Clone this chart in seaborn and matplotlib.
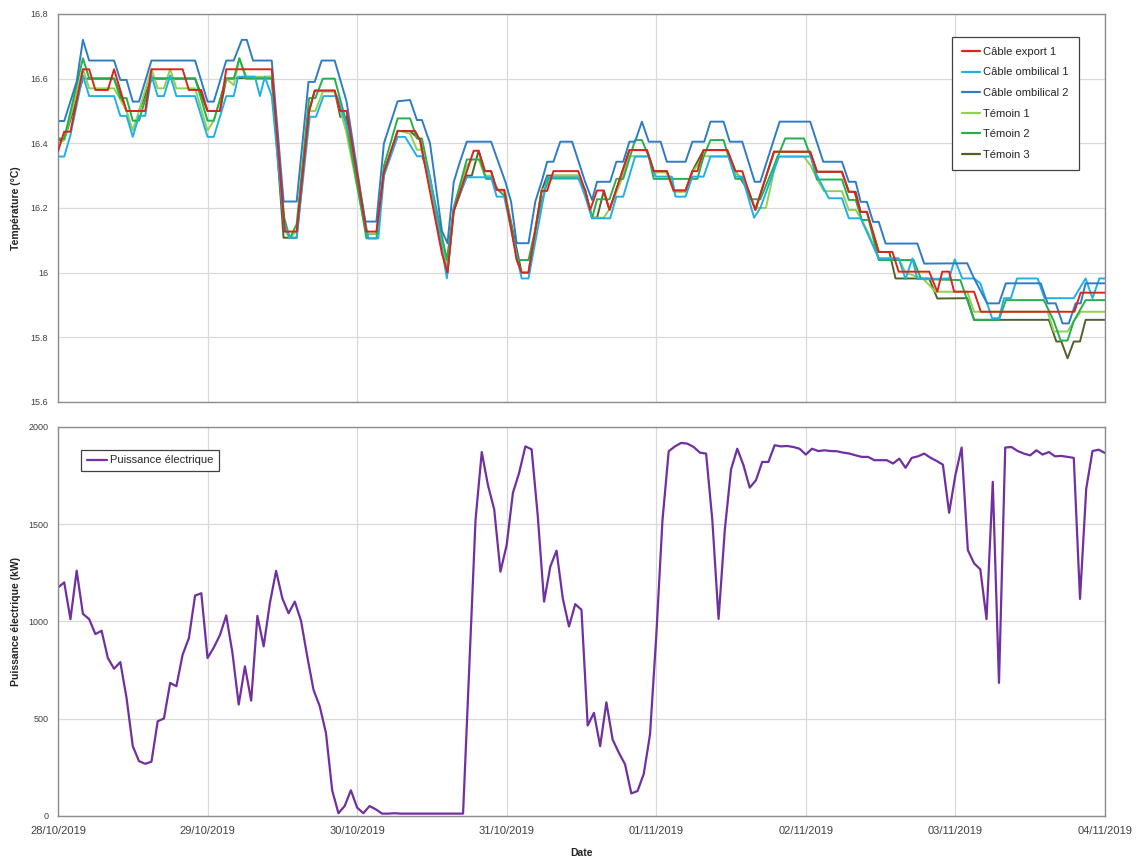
import numpy as np
import pandas as pd
import matplotlib
matplotlib.use("Agg")
import matplotlib.pyplot as plt
import matplotlib.dates as mdates
from matplotlib.ticker import FuncFormatter, MultipleLocator
import seaborn as sns

# --- Data (hours after 28/10/2019 00:00) ---
START = pd.Timestamp("2019-10-28")

export1_h = [0, 1, 2, 4, 5, 6, 8, 9, 11, 14, 15, 20, 21, 23, 24, 26, 27, 34.3, 36.4, 38.3,
             40.3, 41.2, 44.4, 45.3, 46.3, 49.5, 51.1, 52.3, 54.5, 57.3, 58.1, 61.6, 62.5, 63.5,
             66.7, 67.5, 68.5, 69.5, 70.4, 71.6, 73.6, 74.4, 75.5, 77.6, 78.5, 79.5, 83.5, 84.6,
             85.4, 86.5, 87.5, 88.5, 91.7, 94.5, 95.6, 97.7, 98.8, 100.7, 101.8, 102.6, 103.6,
             107.4, 108.7, 109.8, 110.8, 111.9, 114.9, 120.7, 121.8, 125.8, 126.9, 127.8, 128.8,
             129.8, 131.7, 133.9, 134.9, 139.8, 141.1, 141.9, 143, 143.8, 147, 148.1, 163.1, 164.1, 168]
export1_t = [16.376, 16.436, 16.436, 16.629, 16.629, 16.565, 16.565, 16.629, 16.5, 16.5,
             16.629, 16.629, 16.565, 16.565, 16.5, 16.5, 16.629, 16.629, 16.127, 16.127,
             16.5, 16.563, 16.563, 16.5, 16.5, 16.127, 16.127, 16.31, 16.438, 16.438,
             16.41, 16.06, 16.0, 16.19, 16.377, 16.377, 16.314, 16.314, 16.256, 16.256,
             16.04, 16.0, 16.0, 16.253, 16.253, 16.314, 16.314, 16.253, 16.194, 16.254,
             16.254, 16.194, 16.379, 16.379, 16.314, 16.314, 16.254, 16.254, 16.314, 16.314,
             16.379, 16.379, 16.314, 16.314, 16.254, 16.194, 16.374, 16.374, 16.312, 16.312,
             16.25, 16.25, 16.188, 16.188, 16.064, 16.064, 16.003, 16.003, 15.941, 16.003,
             16.003, 15.941, 15.941, 15.879, 15.879, 15.938, 15.938]

ombil1_h = [0, 1, 2, 4, 5, 9, 10, 11, 12, 13, 14, 15, 16, 17, 18, 19, 22, 24, 25, 27,
            28.2, 28.9, 31.6, 32.4, 33.2, 34.3, 36.2, 37.2, 38.3, 40.4, 41.4, 42.6, 44.8, 46.9,
            49.8, 51.4, 52.3, 54.5, 55.7, 57.6, 58.4, 59.7, 62.4, 63.5, 65.6, 69.5, 70.4, 71.6,
            74.4, 75.5, 77.6, 78.5, 83.5, 84.6, 85.7, 88.6, 89.6, 90.7, 92.6, 94.8, 95.9, 98.5,
            99.1, 100.7, 101.8, 103.6, 104.7, 107.6, 108.7, 109.8, 111.7, 112.7, 115.7, 120.8,
            121.8, 123.7, 125.8, 126.9, 128.8, 131.7, 134.9, 136, 137.1, 137.9, 143, 143.9, 145.1,
            147, 148, 149.9, 151, 151.8, 152.9, 153.9, 157.2, 158.3, 163, 164.9, 166, 167.1, 168]
ombil1_t = [16.359, 16.359, 16.426, 16.61, 16.546, 16.546, 16.485, 16.485, 16.42, 16.485,
            16.485, 16.61, 16.546, 16.546, 16.61, 16.546, 16.546, 16.42, 16.42, 16.546,
            16.546, 16.606, 16.606, 16.546, 16.606, 16.546, 16.16, 16.108, 16.108, 16.482,
            16.482, 16.546, 16.546, 16.42, 16.106, 16.106, 16.3, 16.42, 16.42, 16.36,
            16.36, 16.297, 15.982, 16.2, 16.295, 16.295, 16.235, 16.235, 15.982, 15.982,
            16.2, 16.294, 16.294, 16.235, 16.168, 16.168, 16.235, 16.235, 16.359, 16.359,
            16.297, 16.297, 16.235, 16.235, 16.297, 16.297, 16.359, 16.359, 16.297, 16.297,
            16.17, 16.2, 16.359, 16.359, 16.3, 16.23, 16.23, 16.168, 16.168, 16.044,
            16.044, 15.98, 16.044, 15.98, 15.982, 16.041, 15.982, 15.982, 15.967, 15.859,
            15.859, 15.921, 15.921, 15.982, 15.982, 15.921, 15.921, 15.982, 15.921, 15.982, 15.982]

ombil2_h = [0, 1, 3, 4, 5, 9, 10, 11, 12, 13, 15, 22, 24, 25, 27, 28.2, 29.5, 30.3, 31.3, 34.3,
            36.2, 38.3, 40.2, 41.2, 42.3, 44.4, 46.3, 49.3, 51.1, 52.3, 54.5, 56.5, 57.6, 58.4,
            59.7, 61.6, 62.5, 63.5, 64.5, 65.6, 69.5, 71.8, 72.7, 73.6, 75.5, 76.6, 77.6, 78.5,
            79.5, 80.6, 82.5, 84.6, 85.7, 86.5, 88.6, 89.6, 90.7, 91.7, 92.6, 93.7, 94.8, 96.7,
            97.7, 100.7, 101.8, 103.7, 104.7, 106.8, 107.8, 109.8, 111.8, 112.7, 115.8, 120.7,
            122.8, 125.8, 126.9, 128, 128.8, 129.8, 130.8, 131.7, 132.8, 137.9, 139, 145.9, 147,
            149.1, 151, 152.1, 157.7, 158.8, 160.1, 161.2, 162.2, 163.3, 164.1, 164.9, 168]
ombil2_t = [16.469, 16.469, 16.591, 16.72, 16.656, 16.656, 16.596, 16.596, 16.529, 16.529,
            16.656, 16.656, 16.529, 16.529, 16.656, 16.656, 16.72, 16.72, 16.656, 16.656,
            16.22, 16.22, 16.59, 16.59, 16.656, 16.656, 16.53, 16.158, 16.158, 16.40,
            16.53, 16.534, 16.472, 16.472, 16.40, 16.13, 16.091, 16.28, 16.343, 16.405,
            16.405, 16.28, 16.22, 16.091, 16.091, 16.22, 16.281, 16.343, 16.343, 16.405,
            16.405, 16.28, 16.225, 16.281, 16.281, 16.343, 16.343, 16.405, 16.405, 16.467,
            16.405, 16.405, 16.343, 16.343, 16.405, 16.405, 16.467, 16.467, 16.405, 16.405,
            16.281, 16.281, 16.467, 16.467, 16.343, 16.343, 16.281, 16.281, 16.219, 16.219,
            16.157, 16.157, 16.09, 16.09, 16.028, 16.029, 15.982, 15.905, 15.905, 15.967,
            15.967, 15.905, 15.905, 15.843, 15.843, 15.905, 15.905, 15.967, 15.967]

temoin1_h = [0, 1, 4, 5, 9, 11, 12, 13, 15, 16, 17, 18, 19, 22, 24, 25, 27, 28.2, 29.1, 30.2,
             34.3, 36.4, 37.2, 38.3, 40.3, 41.3, 42.5, 44.4, 46.2, 49.5, 51.1, 52.3, 54.5, 56.5,
             57.6, 58.4, 62.5, 63.5, 65.6, 66.4, 67.5, 68.5, 69.5, 70.6, 71.8, 73.6, 74.4, 75.5,
             77.6, 78.5, 79.5, 83.5, 84.6, 85.7, 87.6, 88.6, 90.7, 91.7, 94.8, 95.6, 97.7, 98.8,
             100.7, 101.8, 103.6, 107.6, 108.7, 109.8, 111.8, 113.6, 115.4, 119.7, 120.8, 121.8,
             122.9, 125.8, 126.9, 128, 129, 130.1, 131.7, 134.9, 136, 138.9, 140.8, 145.9, 147,
             158.8, 159.8, 162, 163, 164.1, 168]
temoin1_t = [16.4, 16.41, 16.63, 16.57, 16.57, 16.5, 16.44, 16.5, 16.63, 16.57,
             16.57, 16.63, 16.57, 16.57, 16.44, 16.47, 16.6, 16.58, 16.663, 16.606,
             16.606, 16.13, 16.106, 16.13, 16.5, 16.5, 16.56, 16.56, 16.44, 16.12,
             16.12, 16.3, 16.44, 16.43, 16.38, 16.38, 16.01, 16.2, 16.33, 16.35,
             16.35, 16.3, 16.3, 16.256, 16.25, 16.04, 16.0, 16.0, 16.253, 16.27,
             16.3, 16.3, 16.25, 16.17, 16.17, 16.2, 16.3, 16.36, 16.36, 16.31,
             16.31, 16.25, 16.25, 16.31, 16.36, 16.36, 16.31, 16.29, 16.2, 16.2,
             16.359, 16.359, 16.33, 16.29, 16.252, 16.252, 16.194, 16.194, 16.163, 16.12,
             16.044, 16.044, 16.0, 15.98, 15.941, 15.941, 15.879, 15.879, 15.818, 15.818,
             15.85, 15.879, 15.879]

temoin2_h = [0, 1, 4, 5, 9, 10, 11, 12, 13, 15, 22, 24, 25, 27, 28.2, 29.1, 30.2, 34.3, 36.3,
             37.2, 38.3, 40.3, 41.3, 42.5, 44.4, 46.2, 49.5, 51.1, 52.3, 54.5, 56.5, 57.6, 58.4,
             62.4, 63.5, 65.6, 67.7, 68.7, 69.5, 70.6, 71.8, 73.8, 75.5, 77.6, 78.7, 83.5, 84.6,
             85.7, 86.5, 88.5, 89.6, 90.7, 92.6, 93.7, 94.8, 95.6, 102.6, 103.6, 104.7, 106.8,
             107.6, 108.7, 109.8, 111.1, 112.7, 116.7, 119.7, 120.8, 121.8, 125.8, 126.9, 128,
             129, 130.1, 131.7, 137.3, 138.5, 144.8, 147, 151, 152.1, 158.2, 159.8, 160.9, 162,
             163, 164.9, 168]
temoin2_t = [16.415, 16.415, 16.663, 16.601, 16.601, 16.54, 16.54, 16.47, 16.47, 16.601,
             16.601, 16.47, 16.47, 16.601, 16.6, 16.663, 16.6, 16.6, 16.17, 16.106,
             16.15, 16.54, 16.54, 16.6, 16.6, 16.47, 16.106, 16.106, 16.33, 16.477,
             16.477, 16.415, 16.415, 16.039, 16.2, 16.35, 16.35, 16.29, 16.29, 16.256,
             16.235, 16.039, 16.039, 16.22, 16.291, 16.291, 16.256, 16.168, 16.227, 16.227,
             16.29, 16.29, 16.41, 16.41, 16.359, 16.29, 16.29, 16.359, 16.41, 16.41,
             16.359, 16.29, 16.29, 16.227, 16.227, 16.415, 16.415, 16.359, 16.288, 16.288,
             16.225, 16.225, 16.163, 16.163, 16.039, 16.039, 15.98, 15.977, 15.854, 15.854,
             15.915, 15.915, 15.85, 15.79, 15.79, 15.85, 15.915, 15.915]

temoin3_h = [0, 1, 4, 9, 11, 13, 15, 22, 24, 26, 27, 34.3, 36.2, 38.3, 40.3, 41.2, 44.4, 45.3,
             46.3, 49.5, 51.1, 52.3, 54.5, 56.5, 58.1, 62.5, 63.5, 65.6, 66.4, 67.5, 68.5, 69.5,
             70.4, 71.6, 74.4, 75.5, 77.6, 78.5, 83.5, 84.6, 85.7, 86.5, 87.6, 88.5, 91.7, 94.5,
             95.6, 97.7, 98.8, 100.7, 101.8, 103.6, 107.4, 108.7, 110.8, 111.9, 114.9, 120.7,
             121.8, 125.8, 126.9, 128, 128.8, 129.8, 131.7, 133.4, 134.4, 139.8, 141.1, 145.9,
             147, 159, 160.2, 161, 162, 163, 164, 164.9, 168]
temoin3_t = [16.41, 16.41, 16.6, 16.6, 16.5, 16.5, 16.6, 16.6, 16.5, 16.5,
             16.6, 16.606, 16.108, 16.108, 16.5, 16.563, 16.563, 16.482, 16.482, 16.12,
             16.12, 16.31, 16.438, 16.438, 16.41, 16.0, 16.19, 16.3, 16.3, 16.377,
             16.314, 16.314, 16.256, 16.256, 16.0, 16.0, 16.253, 16.3, 16.3, 16.253,
             16.17, 16.17, 16.254, 16.194, 16.379, 16.379, 16.314, 16.314, 16.254, 16.254,
             16.314, 16.379, 16.379, 16.314, 16.254, 16.194, 16.374, 16.374, 16.312, 16.312,
             16.25, 16.25, 16.188, 16.188, 16.064, 16.064, 15.982, 15.982, 15.92, 15.921,
             15.854, 15.854, 15.787, 15.787, 15.735, 15.787, 15.787, 15.854, 15.854]

# hourly electrical power (kW), 28/10 00:00 -> 04/11 00:00
power_kw = [1174, 1201, 1012, 1261, 1039, 1012, 935, 952, 812, 757, 791, 607, 359, 282, 268,
            279, 487, 501, 684, 667, 829, 914, 1133, 1145,
            812, 866, 931, 1031, 837, 573, 769, 593, 1029, 872, 1094, 1260, 1119, 1042, 1102,
            1003, 820, 649, 564, 427, 132, 14, 51, 132, 43, 14, 51, 34, 12, 12, 14,
            12, 12, 12, 12, 12, 12, 12, 12, 12, 12, 12, 760,
            1521, 1871, 1700, 1576, 1256, 1393, 1661, 1764, 1900, 1885, 1538, 1102, 1282, 1364,
            1119, 974, 1089, 1060, 465, 530, 359, 584, 393, 325, 265, 116, 128, 217, 419, 923,
            1521, 1875, 1900, 1918, 1914, 1897, 1868, 1863, 1521, 1013, 1470, 1781, 1888, 1803,
            1688, 1726, 1820, 1820, 1906, 1900,
            1902, 1897, 1888, 1858, 1888, 1876, 1880, 1876, 1875, 1868, 1863, 1854, 1846, 1846,
            1829, 1829, 1829, 1812, 1837, 1790, 1841, 1849, 1863, 1842, 1825, 1806, 1559, 1752,
            1894, 1367, 1299, 1268, 1012, 1718, 684, 1894, 1897, 1876, 1863, 1854, 1880, 1858,
            1871, 1849, 1851, 1846, 1841, 1116, 1683, 1876, 1883, 1866]

series = [
    ("Câble export 1", export1_h, export1_t, "#d9261c", 2.6),
    ("Câble ombilical 1", ombil1_h, ombil1_t, "#1fb0ea", 2.3),
    ("Câble ombilical 2", ombil2_h, ombil2_t, "#2f7cc4", 2.4),
    ("Témoin 1", temoin1_h, temoin1_t, "#92d050", 2.1),
    ("Témoin 2", temoin2_h, temoin2_t, "#22b14c", 2.2),
    ("Témoin 3", temoin3_h, temoin3_t, "#4f6228", 2.0),
]

sns.set_style("white")
plt.rcParams["font.family"] = ["Liberation Sans", "DejaVu Sans"]

fig = plt.figure(figsize=(11.37, 8.58), dpi=100)
ax1 = fig.add_axes([0.0510, 0.5315, 0.9208, 0.4522])
ax2 = fig.add_axes([0.0510, 0.0490, 0.9208, 0.4534], sharex=ax1)

for name, hrs, temps, col, z in series:
    t = START + pd.to_timedelta(hrs, unit="h")
    sns.lineplot(x=t, y=temps, ax=ax1, color=col, lw=1.4, label=name,
                 estimator=None, sort=False, zorder=z)

p_time = pd.date_range(START, periods=len(power_kw), freq="h")
sns.lineplot(x=p_time, y=power_kw, ax=ax2, color="#7030a0", lw=1.6,
             label="Puissance électrique", estimator=None, sort=False)

x0 = START
x1 = START + pd.Timedelta(days=7)
for ax in (ax1, ax2):
    ax.set_xlim(x0, x1)
    ax.grid(True, color="#d9d9d9", lw=0.9)
    ax.set_axisbelow(True)
    for sp in ax.spines.values():
        sp.set_color("#8c8c8c")
        sp.set_linewidth(1.0)
    ax.tick_params(axis="both", direction="out", length=3, width=0.8, color="#8c8c8c",
                   labelcolor="#404040")
    ax.xaxis.set_major_locator(mdates.DayLocator())
    ax.xaxis.set_major_formatter(mdates.DateFormatter("%d/%m/%Y"))

ax1.set_ylim(15.6, 16.8)
ax1.yaxis.set_major_locator(MultipleLocator(0.2))
ax1.yaxis.set_major_formatter(FuncFormatter(lambda v, p: f"{v:g}"))
ax1.tick_params(axis="x", labelbottom=False, length=0)
ax1.tick_params(axis="y", labelsize=6.5, pad=4)
ax1.set_xlabel("")
ax1.set_ylabel("Température (°C)", fontsize=7.5, fontweight="bold", color="#222222")
ax1.yaxis.set_label_coords(-0.035, 0.5)

ax2.set_ylim(0, 2000)
ax2.yaxis.set_major_locator(MultipleLocator(500))
ax2.tick_params(axis="y", labelsize=6.5, pad=4)
ax2.tick_params(axis="x", labelsize=8, pad=4)
ax2.set_ylabel("Puissance électrique (kW)", fontsize=7.5, fontweight="bold", color="#222222")
ax2.yaxis.set_label_coords(-0.035, 0.5)
ax2.set_xlabel("Date", fontsize=7.5, fontweight="bold", color="#222222", labelpad=9)

leg1 = ax1.legend(loc="upper right", bbox_to_anchor=(0.975, 0.941), fontsize=8,
                  frameon=True, fancybox=False, edgecolor="#404040", framealpha=1,
                  handlelength=1.6, handletextpad=0.3, labelspacing=0.95, borderpad=0.9,
                  borderaxespad=0)
leg1.get_frame().set_linewidth(0.9)
leg2 = ax2.legend(loc="upper left", bbox_to_anchor=(0.022, 0.941), fontsize=8,
                  frameon=True, fancybox=False, edgecolor="#404040", framealpha=1,
                  handlelength=1.8, handletextpad=0.3, borderpad=0.5, borderaxespad=0)
leg2.get_frame().set_linewidth(0.9)
for leg in (leg1, leg2):
    for line in leg.get_lines():
        line.set_linewidth(1.6)

fig.savefig("out.png", dpi=100)
